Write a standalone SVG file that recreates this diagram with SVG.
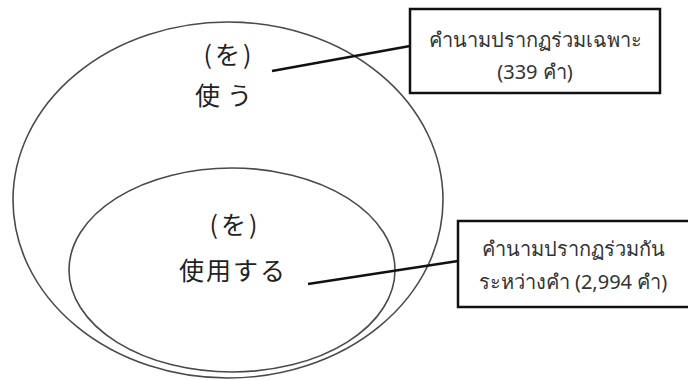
<svg xmlns="http://www.w3.org/2000/svg" width="688" height="380" viewBox="0 0 688 380">
<style>
.ring{fill:none;stroke:#4a4a4a;stroke-width:1.6}
.box{fill:#fff;stroke:#111;stroke-width:2.5}
.jp{font-family:"Noto Sans CJK JP",sans-serif;font-size:25px;fill:#222;text-anchor:middle}
.th{font-family:"Noto Sans","DejaVu Sans",sans-serif;font-size:20px;fill:#333;text-anchor:middle}
.conn{stroke:#111;stroke-width:2.6;fill:none}
</style>
<rect width="688" height="380" fill="#fff"/>
<g id="outer">
<ellipse class="ring" cx="228" cy="200" rx="215" ry="178"/>
<text class="jp" x="229" y="64" letter-spacing="3">(を)</text>
<text class="jp" x="227" y="105" letter-spacing="7">使う</text>
</g>
<g id="inner">
<ellipse class="ring" cx="232" cy="270" rx="163" ry="102"/>
<text class="jp" x="235" y="234" letter-spacing="3">(を)</text>
<text class="jp" x="233" y="280" letter-spacing="2">使用する</text>
</g>
<g id="connectors">
<line class="conn" x1="272" y1="71" x2="410" y2="46"/>
<line class="conn" x1="308" y1="284" x2="458" y2="261"/>
</g>
<g id="label1">
<rect class="box" x="410" y="9" width="250" height="84"/>
<text class="th" x="535" y="47">คำนามปรากฏร่วมเฉพาะ</text>
<text class="th" x="535" y="79">(339 คำ)</text>
</g>
<g id="label2">
<rect class="box" x="458" y="221" width="235" height="86"/>
<text class="th" x="573" y="256">คำนามปรากฏร่วมกัน</text>
<text class="th" x="573" y="289">ระหว่างคำ (2,994 คำ)</text>
</g>
</svg>
